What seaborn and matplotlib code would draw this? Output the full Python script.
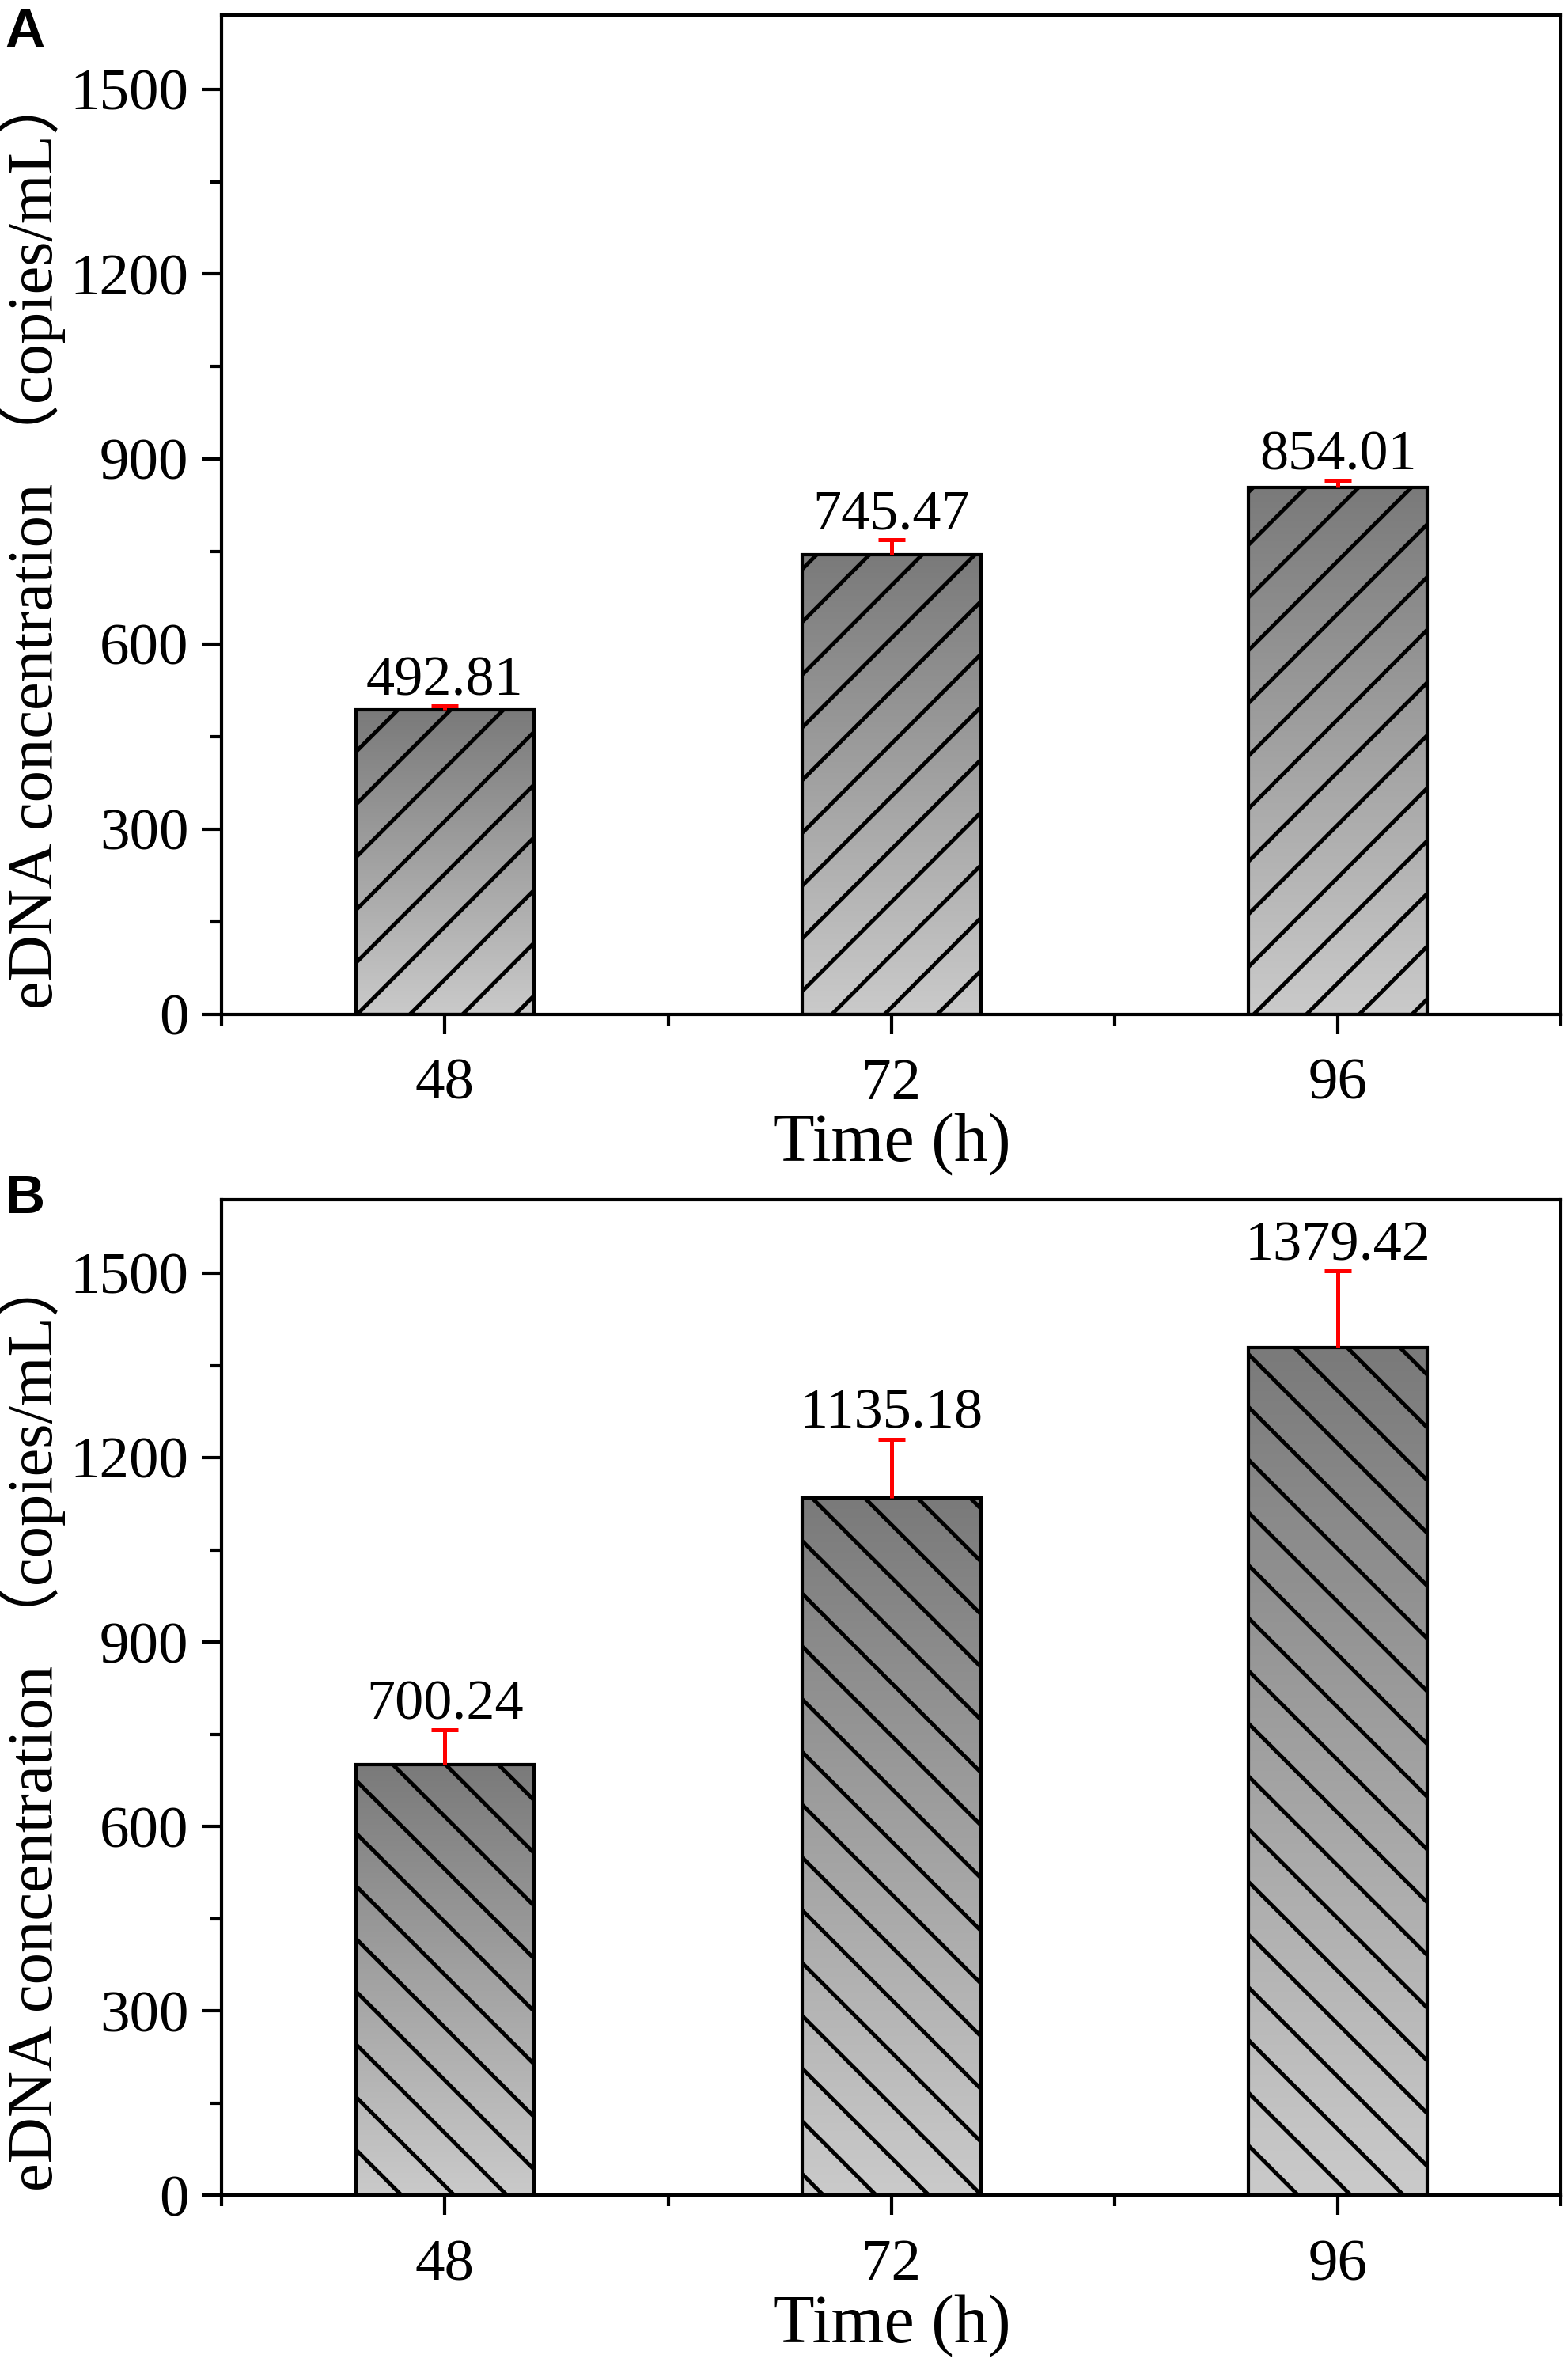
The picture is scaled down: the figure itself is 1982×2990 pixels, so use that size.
import numpy as np
import pandas as pd
import matplotlib
matplotlib.use('Agg')
import matplotlib.pyplot as plt
import seaborn as sns
from matplotlib.colors import LinearSegmentedColormap
from matplotlib.ticker import MultipleLocator, FixedLocator

# 数据
times = ['48', '72', '96']
conc_a = [492.81, 745.47, 854.01]
err_a = [7, 24, 11]
conc_b = [700.24, 1135.18, 1379.42]
err_b = [57, 95, 124]

sns.set_style('ticks')
plt.rcParams['font.family'] = ['Liberation Serif', 'Noto Sans CJK SC']
plt.rcParams['hatch.linewidth'] = 1.8
plt.rcParams['hatch.color'] = 'black'
plt.rcParams['axes.linewidth'] = 1.5
plt.rcParams['axes.edgecolor'] = 'black'
plt.rcParams['text.color'] = 'black'
plt.rcParams['axes.labelcolor'] = 'black'
plt.rcParams['xtick.color'] = 'black'
plt.rcParams['ytick.color'] = 'black'

fig = plt.figure(figsize=(9.915, 14.95), dpi=200)
ax_a = fig.add_axes([0.1413, 0.5714, 0.8539, 0.4222])
ax_b = fig.add_axes([0.1413, 0.0721, 0.8539, 0.4209])

grad = LinearSegmentedColormap.from_list('bar_grad', ['#cacaca', '#7a7a7a'])


def draw_panel(ax, vals, errs, hatch, letter, ly):
    df = pd.DataFrame({'Time': times, 'Conc': vals})
    sns.barplot(data=df, x='Time', y='Conc', ax=ax, width=0.4, color='#999999',
                edgecolor='black', linewidth=1.5, saturation=1)
    # 渐变填充 + 斜线
    for p in ax.patches:
        x0, y0 = p.get_x(), p.get_y()
        w, h = p.get_width(), p.get_height()
        img = ax.imshow(np.linspace(0, 1, 256).reshape(-1, 1), cmap=grad, origin='lower',
                        extent=[x0, x0 + w, y0, y0 + h], aspect='auto',
                        zorder=p.get_zorder() - 0.1, interpolation='bilinear')
        img.set_clip_path(p)
        p.set_facecolor('none')
        p.set_hatch(hatch)

    # 误差线 (仅向上)
    eb = ax.errorbar(range(len(vals)), vals, yerr=[np.zeros(len(vals)), errs], fmt='none',
                     ecolor='red', elinewidth=1.8, capsize=6, capthick=1.8, zorder=5)
    eb[1][0].set_visible(False)

    for i, (v, e) in enumerate(zip(vals, errs)):
        ax.annotate(f'{v:.2f}', (i, v + e), xytext=(0, 5), textcoords='offset points',
                    ha='center', va='baseline', fontsize=26)

    ax.set_xlim(-0.5, 2.5)
    ax.set_ylim(0, 1620)
    ax.yaxis.set_major_locator(MultipleLocator(300))
    ax.yaxis.set_minor_locator(MultipleLocator(150))
    ax.xaxis.set_minor_locator(FixedLocator([-0.5, 0.5, 1.5, 2.5]))
    ax.tick_params(which='major', direction='out', length=9, width=1.5, labelsize=27, pad=6)
    ax.tick_params(axis='x', which='major', pad=11)
    ax.tick_params(which='minor', direction='out', length=5, width=1.5)
    for s in ax.spines.values():
        s.set_visible(True)
        s.set_linewidth(1.5)

    ax.set_xlabel('Time (h)', fontsize=31, labelpad=1)
    ax.set_ylabel('eDNA concentration （copies/mL）', fontsize=29, labelpad=2)
    ax.yaxis.label.set_y(0.475)
    fig.text(0.003, ly, letter, fontsize=25, fontweight='bold', family='Liberation Sans',
             va='top', ha='left')


draw_panel(ax_a, conc_a, err_a, '/', 'A', 0.997)
draw_panel(ax_b, conc_b, err_b, '\\', 'B', 0.504)

fig.savefig('out.png', dpi=200, facecolor='white')
